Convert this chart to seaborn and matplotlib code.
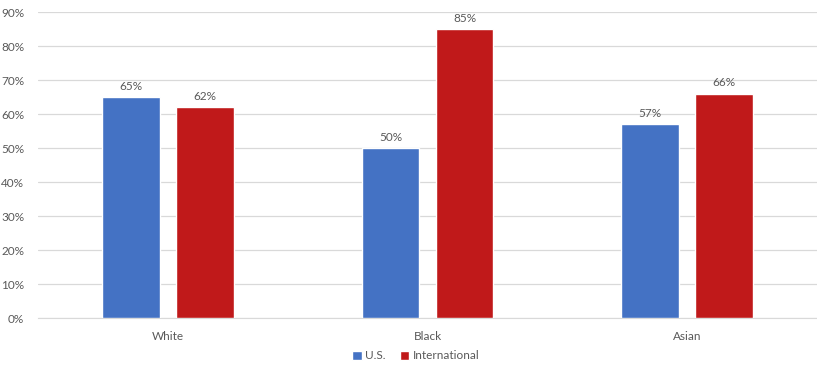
import pandas as pd
import matplotlib
matplotlib.use("Agg")
import matplotlib.pyplot as plt
import seaborn as sns
from matplotlib.ticker import PercentFormatter

categories = ["White", "Black", "Asian"]
us_values = [65, 50, 57]
intl_values = [62, 85, 66]
series_names = ["U.S.", "International"]

df = pd.DataFrame({
    "group": categories * 2,
    "series": [series_names[0]] * 3 + [series_names[1]] * 3,
    "value": us_values + intl_values,
})

sns.set_style("white")
plt.rcParams["font.family"] = ["Lato", "DejaVu Sans"]
text_color = "#595959"

fig = plt.figure(figsize=(8.17, 3.66), dpi=100)
ax = fig.add_axes([0.0465, 0.131, 0.9535, 0.836])

sns.barplot(
    data=df, x="group", y="value", hue="series",
    palette=["#4472C4", "#C0191A"], saturation=1, width=0.57, gap=0.22,
    ax=ax, legend=True, zorder=3,
)

for container in ax.containers:
    ax.bar_label(container, labels=[f"{v:.0f}%" for v in container.datavalues],
                 padding=4, fontsize=8.5, color=text_color)

ax.set_xlim(-0.5, 2.5)
ax.set_ylim(0, 90)
ax.set_yticks(range(0, 91, 10))
ax.yaxis.set_major_formatter(PercentFormatter(decimals=0))
ax.grid(axis="y", color="#D9D9D9", linewidth=0.9, zorder=0)
ax.set_axisbelow(True)
for side in ["top", "right", "left"]:
    ax.spines[side].set_visible(False)
ax.spines["bottom"].set_color("#D9D9D9")
ax.set_xlabel("")
ax.set_ylabel("")
ax.tick_params(axis="both", length=0, labelsize=8.5, colors=text_color)
ax.tick_params(axis="x", pad=9)
ax.tick_params(axis="y", pad=10)

handles, labels = ax.get_legend_handles_labels()
ax.legend(handles, labels, loc="center", bbox_to_anchor=(0.485, -0.124),
          ncol=2, frameon=False, fontsize=8.5, handlelength=0.8,
          handleheight=0.8, handletextpad=0.3, columnspacing=1.2,
          labelcolor=text_color, borderpad=0)

fig.savefig("out.png", dpi=100)
